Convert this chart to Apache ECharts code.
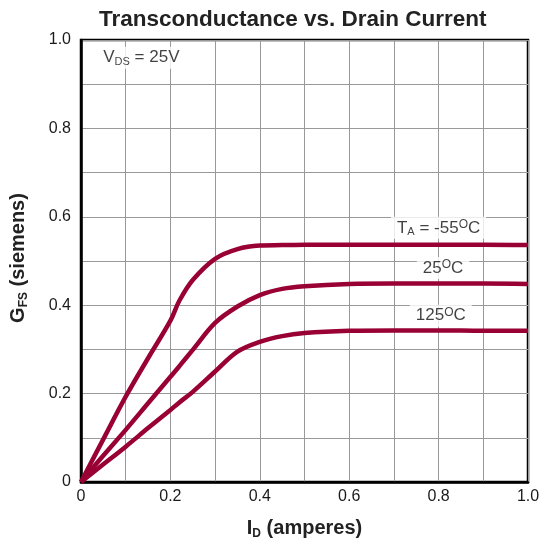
<!DOCTYPE html>
<html>
<head>
<meta charset="utf-8">
<script src="https://cdn.jsdelivr.net/npm/echarts@6/dist/echarts.min.js"></script>
<style>html,body{margin:0;padding:0;background:#fff}#c{width:544px;height:544px}</style>
</head>
<body>
<div id="c"></div>
<script>
var idAmps   = [0, 0.05, 0.1, 0.15, 0.2, 0.22, 0.25, 0.3, 0.35, 0.4, 0.45, 0.5, 0.6, 0.7, 0.8, 0.9, 1.0];
var gfsM55   = [0, 0.097, 0.193, 0.28, 0.365, 0.41, 0.457, 0.505, 0.527, 0.535, 0.536, 0.537, 0.537, 0.537, 0.537, 0.537, 0.536];
var gfs25    = [0, 0.06, 0.118, 0.178, 0.238, 0.262, 0.299, 0.36, 0.397, 0.423, 0.437, 0.443, 0.448, 0.449, 0.449, 0.449, 0.448];
var gfs125   = [0, 0.04, 0.08, 0.122, 0.163, 0.18, 0.204, 0.25, 0.295, 0.317, 0.33, 0.337, 0.342, 0.343, 0.343, 0.342, 0.342];
var tickLabelsX = ['0', '0.2', '0.4', '0.6', '0.8', '1.0'];
var tickLabelsY = ['0', '0.2', '0.4', '0.6', '0.8', '1.0'];

function zip(xs, ys) { return xs.map(function (x, i) { return [x, ys[i]]; }); }
function labelFmt(list) {
  return function (v) {
    var k = Math.round(v * 10);
    return k % 2 === 0 ? list[k / 2] : '';
  };
}
var FONT = 'Liberation Sans, Arial, sans-serif';
var CRIMSON = '#990033';
var rich = {
  n: { fontSize: 17, fontFamily: FONT, color: '#111', lineHeight: 22 },
  sub: { fontSize: 11, fontFamily: FONT, color: '#111', padding: [9, 0, 0, 0] },
  sup: { fontSize: 12, fontFamily: FONT, color: '#111', padding: [0, 0, 7, 0] }
};
function lineSeries(name, ys) {
  return {
    name: name, type: 'line', data: zip(idAmps, ys), smooth: 0.35, symbol: 'none',
    lineStyle: { color: CRIMSON, width: 4.5 }, z: 3
  };
}
function textSeries(pt, fmt) {
  return {
    type: 'scatter', data: [pt], symbolSize: 0, z: 5, silent: true,
    label: {
      show: true, position: 'inside', formatter: fmt, rich: rich,
      backgroundColor: '#fff', padding: [0, 6, 0, 6]
    }
  };
}
var nameRich = {
  b: { fontSize: 20, fontWeight: 'bold', fontFamily: FONT, color: '#222' },
  s: { fontSize: 12, fontWeight: 'bold', fontFamily: FONT, color: '#222', padding: [11, 0, 0, 0] }
};
var chart = echarts.init(document.getElementById('c'));
chart.setOption({
  animation: false,
  backgroundColor: '#fff',
  title: {
    text: 'Transconductance vs. Drain Current', left: 94, top: 3,
    textStyle: { fontSize: 22.5, fontWeight: 'bold', fontFamily: FONT, color: '#222' }
  },
  grid: {
    left: 81, right: 16, top: 40, bottom: 62, containLabel: false, outerBoundsMode: 'none',
    show: true, borderColor: '#000', borderWidth: 2.5
  },
  xAxis: {
    type: 'value', min: 0, max: 1, interval: 0.1,
    name: '{b|I}{s|D}{b| (amperes)}', nameLocation: 'middle', nameGap: 35,
    nameTextStyle: { rich: nameRich },
    axisLine: { show: true, lineStyle: { color: '#000', width: 2.5 } },
    axisTick: { show: false },
    axisLabel: { formatter: labelFmt(tickLabelsX), fontSize: 16, fontFamily: FONT, color: '#1a1a1a', margin: 7 },
    splitLine: { show: true, lineStyle: { color: '#999', width: 1 } }
  },
  yAxis: {
    type: 'value', min: 0, max: 1, interval: 0.1,
    name: '{b|G}{s|FS}{b| (siemens)}', nameLocation: 'middle', nameGap: 51,
    nameTextStyle: { padding: [0, 0, 0, 6], rich: nameRich },
    axisLine: { show: true, lineStyle: { color: '#000', width: 2.5 } },
    axisTick: { show: false },
    axisLabel: { formatter: labelFmt(tickLabelsY), fontSize: 16, fontFamily: FONT, color: '#1a1a1a', margin: 10 },
    splitLine: { show: true, lineStyle: { color: '#999', width: 1 } }
  },
  series: [
    lineSeries('-55', gfsM55),
    lineSeries('25', gfs25),
    lineSeries('125', gfs125),
    textSeries([0.8, 0.575], '{n|T}{sub|A}{n| = -55}{sup|O}{n|C}'),
    textSeries([0.81, 0.484], '{n|25}{sup|O}{n|C}'),
    textSeries([0.805, 0.376], '{n|125}{sup|O}{n|C}'),
    {
      type: 'scatter', data: [[0.135, 0.96]], symbolSize: 0, z: 5, silent: true,
      label: { show: true, position: 'inside', formatter: '{n|V}{sub|DS}{n| = 25V}', rich: rich, backgroundColor: '#fff', padding: [0, 4, 0, 4] }
    }
  ]
});
</script>
</body>
</html>
